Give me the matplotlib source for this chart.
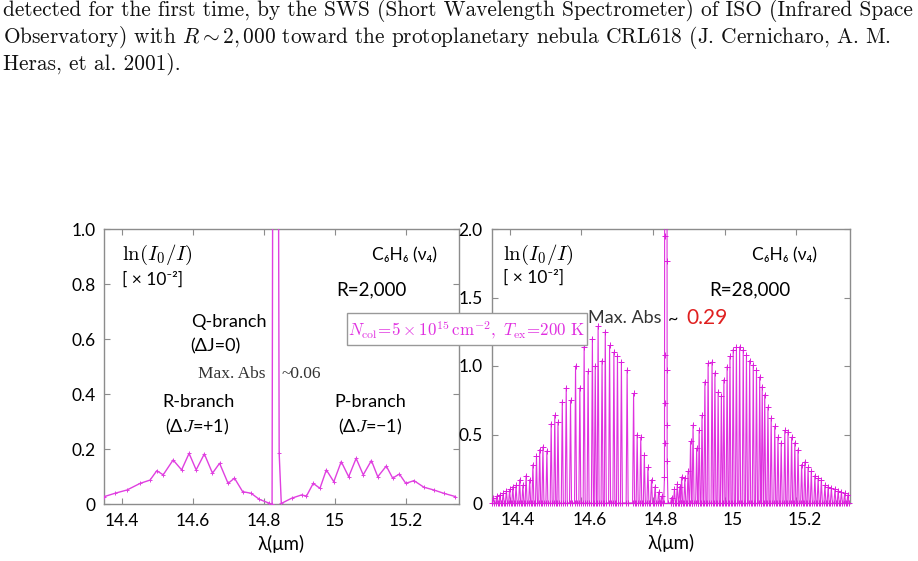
import numpy as np
import matplotlib
matplotlib.use('Agg')
import matplotlib.pyplot as plt
from matplotlib.patches import Rectangle
import matplotlib.transforms as mtransforms

plt.rcParams['mathtext.fontset'] = 'cm'
plt.rcParams['font.family'] = ['Lato', 'DejaVu Sans']

# ---------------- data ----------------
x_ticks = [14.4, 14.6, 14.8, 15.0, 15.2]
x_tick_labels = ['14.4', '14.6', '14.8', '15', '15.2']
left_y_ticks = [0, 0.2, 0.4, 0.6, 0.8, 1.0]
left_y_labels = ['0', '0.2', '0.4', '0.6', '0.8', '1.0']
right_y_ticks = [0, 0.5, 1.0, 1.5, 2.0]
right_y_labels = ['0', '0.5', '1.0', '1.5', '2.0']

# R = 2,000 spectrum (ln(I0/I) x 1e-2)
lowres_wl = [14.350, 14.380, 14.414, 14.451, 14.479, 14.498, 14.516, 14.544, 14.568,
             14.589, 14.609, 14.632, 14.655, 14.675, 14.699, 14.717, 14.740, 14.764,
             14.787, 14.815, 14.823, 14.832, 14.843, 14.849, 14.878, 14.906, 14.920,
             14.939, 14.958, 14.976, 14.997, 15.018, 15.039, 15.060, 15.080, 15.103,
             15.121, 15.145, 15.163, 15.182, 15.200, 15.223, 15.251, 15.279, 15.307,
             15.340]
lowres_abs = [0.028, 0.040, 0.052, 0.076, 0.088, 0.122, 0.107, 0.161, 0.125,
              0.185, 0.125, 0.183, 0.113, 0.149, 0.076, 0.095, 0.046, 0.040,
              0.018, 0.004, 0.000, 6.0, 0.185, 0.003, 0.022, 0.034, 0.030,
              0.076, 0.058, 0.125, 0.082, 0.155, 0.100, 0.167, 0.107, 0.159,
              0.100, 0.139, 0.095, 0.110, 0.076, 0.086, 0.062, 0.052, 0.040,
              0.028]

# R = 28,000 spectrum: R-branch lines
rbranch_wl = [14.355, 14.364, 14.373, 14.382, 14.391, 14.400, 14.409, 14.418, 14.428,
              14.437, 14.446, 14.456, 14.465, 14.475, 14.484, 14.493, 14.504, 14.516,
              14.526, 14.535, 14.547, 14.558, 14.570, 14.584, 14.596, 14.608, 14.619,
              14.631, 14.639, 14.647, 14.658, 14.667, 14.679, 14.691, 14.701, 14.712,
              14.728, 14.746, 14.756, 14.766, 14.776, 14.786, 14.796, 14.806, 14.816,
              14.824]
rbranch_abs = [0.04, 0.05, 0.06, 0.07, 0.09, 0.10, 0.12, 0.13, 0.17,
               0.13, 0.20, 0.17, 0.28, 0.34, 0.39, 0.41, 0.38, 0.58,
               0.64, 0.59, 0.74, 0.84, 0.75, 1.00, 0.84, 1.14, 0.96,
               1.20, 1.00, 1.29, 1.04, 1.25, 1.15, 1.10, 1.07, 1.03,
               0.97, 0.80, 0.50, 0.48, 0.35, 0.26, 0.17, 0.12, 0.08,
               0.05]
# P-branch lines
pbranch_wl = [14.852, 14.860, 14.868, 14.875, 14.880, 14.889, 14.898, 14.905, 14.912,
              14.922, 14.929, 14.937, 14.945, 14.954, 14.965, 14.973, 14.982, 14.991,
              14.998, 15.007, 15.015, 15.024, 15.033, 15.042, 15.052, 15.061, 15.070,
              15.080, 15.089, 15.098, 15.105, 15.112, 15.121, 15.130, 15.140, 15.149,
              15.158, 15.168, 15.177, 15.187, 15.196, 15.205, 15.215, 15.224, 15.233,
              15.242, 15.252, 15.261, 15.270, 15.280, 15.289, 15.298, 15.308, 15.317,
              15.326, 15.335, 15.344]
pbranch_abs = [0.04, 0.10, 0.14, 0.12, 0.19, 0.18, 0.23, 0.45, 0.57,
               0.40, 0.53, 0.64, 0.885, 1.02, 1.03, 0.95, 0.81, 0.78,
               0.90, 0.995, 1.07, 1.12, 1.14, 1.14, 1.12, 1.08, 1.04,
               1.01, 0.97, 0.92, 0.85, 0.79, 0.70, 0.62, 0.56, 0.48,
               0.44, 0.53, 0.52, 0.48, 0.44, 0.39, 0.28, 0.30, 0.26,
               0.23, 0.20, 0.18, 0.17, 0.13, 0.12, 0.11, 0.10, 0.09,
               0.08, 0.07, 0.06]
# Q-branch samples (peak ~29)
qbranch_wl = [14.8300, 14.8322, 14.8323, 14.8324, 14.8325, 14.8326, 14.8360,
              14.8394, 14.8395, 14.8396, 14.8397, 14.8420]
qbranch_abs = [0.0, 0.19, 0.44, 0.73, 1.08, 1.95, 29.0,
               1.77, 0.97, 0.57, 0.31, 0.0]

# ---------------- figure ----------------
W, H = 918, 561
fig = plt.figure(figsize=(W / 100, H / 100), dpi=100)
fig.patch.set_facecolor('white')


def fx(px):
    return px / W


def fy(py):
    return 1 - py / H


MAG = '#e040e0'
MAG2 = '#dc1cdc'
SPINE = '#8c8c8c'
TICKFS = 12.5

axL = fig.add_axes([fx(104.3), fy(504.3), (459 - 104.3) / W, (504.3 - 229) / H])
axR = fig.add_axes([fx(491.7), fy(503), (850 - 491.7) / W, (503 - 229) / H])

for ax in (axL, axR):
    ax.set_xlim(14.35, 15.35)
    ax.set_xticks(x_ticks)
    ax.set_xticklabels(x_tick_labels)
    for s in ax.spines.values():
        s.set_color(SPINE)
        s.set_linewidth(1.0)
    ax.tick_params(direction='in', top=True, right=True, length=4, width=0.8,
                   color=SPINE, labelsize=TICKFS, pad=6.5)
    ax.set_xlabel('λ(μm)', fontsize=13.5, labelpad=4)

axL.set_ylim(0, 1.0)
axL.set_yticks(left_y_ticks)
axL.set_yticklabels(left_y_labels)
axR.set_ylim(0, 2.0)
axR.set_yticks(right_y_ticks)
axR.set_yticklabels(right_y_labels)

# right-panel x tick labels sit slightly right of their ticks in the reference
shift = mtransforms.ScaledTranslation(8 / 100, 0, fig.dpi_scale_trans)
for lab in axR.get_xticklabels():
    lab.set_transform(lab.get_transform() + shift)

# left spectrum
axL.plot(lowres_wl, lowres_abs, color=MAG, lw=1.0, marker='+', ms=3.5, mew=0.7,
         clip_on=True, zorder=3)

# right spectrum: narrow line profiles built from centres and peak heights
w = 0.0028
centres = np.array(rbranch_wl + pbranch_wl)
heights = np.array(rbranch_abs + pbranch_abs)
xs = np.column_stack([centres - w, centres, centres + w]).ravel()
ys = np.column_stack([np.zeros_like(heights), heights, np.zeros_like(heights)]).ravel()
qx = np.array(qbranch_wl)
qy = np.array(qbranch_abs)
allx = np.concatenate([[14.35], xs, qx])
ally = np.concatenate([[0.0], ys, qy])
order = np.argsort(allx, kind='stable')
allx = np.append(allx[order], 15.35)
ally = np.append(ally[order], 0.0)
axR.plot(allx, ally, color=MAG2, lw=0.8, alpha=0.9, zorder=3)
axR.plot(centres, heights, ls='none', color=MAG2, marker='+', ms=4, mew=0.7, zorder=4)
axR.plot(qx, qy, ls='none', color=MAG2, marker='+', ms=4, mew=0.7, zorder=4)
axR.plot(np.concatenate([centres - w, centres + w]), np.zeros(2 * len(centres)),
         ls='none', color=MAG2, marker='+', ms=4, mew=0.7, zorder=4, clip_on=False)

# ---------------- annotations ----------------
SANS = ['Lato', 'DejaVu Sans']
lnfs = 15
# left panel
fig.text(fx(121.7), fy(255), r'$\ln(I_0/I)$', fontsize=lnfs, va='center', ha='left')
fig.text(fx(122), fy(280), '[ × 10⁻²]', fontsize=12.5, va='center', ha='left', family=SANS)
fig.text(fx(436.7), fy(255), 'C₆H₆ (ν₄)', fontsize=12.5, va='center', ha='right', family=SANS)
fig.text(fx(406.7), fy(290), 'R=2,000', fontsize=13.5, va='center', ha='right', family=SANS)
fig.text(fx(190.7), fy(321.7), 'Q-branch', fontsize=13, va='center', ha='left', family=SANS)
fig.text(fx(190.7), fy(346.7), '(ΔJ=0)', fontsize=13, va='center', ha='left', family=SANS)
fig.text(fx(265), fy(374.3), 'Max. Abs', fontsize=12.5, va='center', ha='right',
         family=['Liberation Serif'], color='#333333')
fig.text(fx(281.7), fy(374.3), '~0.06', fontsize=12.5, va='center', ha='left',
         family=['Liberation Serif'], color='#333333')
fig.text(fx(198.3), fy(401.7), 'R-branch', fontsize=13, va='center', ha='center', family=SANS)
fig.text(fx(197), fy(426.7), r'(Δ$J$=+1)', fontsize=13, va='center', ha='center', family=SANS)
fig.text(fx(370.7), fy(401.7), 'P-branch', fontsize=13, va='center', ha='center', family=SANS)
fig.text(fx(370), fy(426.7), r'(Δ$J$=−1)', fontsize=13, va='center', ha='center', family=SANS)

# right panel
fig.text(fx(503.3), fy(255), r'$\ln(I_0/I)$', fontsize=lnfs, va='center', ha='left')
fig.text(fx(503.3), fy(278), '[ × 10⁻²]', fontsize=12.5, va='center', ha='left', family=SANS)
fig.text(fx(816.7), fy(255), 'C₆H₆ (ν₄)', fontsize=12.5, va='center', ha='right', family=SANS)
fig.text(fx(790.7), fy(290), 'R=28,000', fontsize=13.5, va='center', ha='right', family=SANS)
fig.text(fx(588.3), fy(318.3), 'Max. Abs', fontsize=13, va='center', ha='left', family=SANS,
         color='#333333')
fig.text(fx(673), fy(319), '~', fontsize=13, va='center', ha='center', family=SANS)
fig.text(fx(686.7), fy(318.3), '0.29', fontsize=15, va='center', ha='left', family=SANS,
         color='#e02020')

# parameter box
fig.add_artist(Rectangle((fx(346.7), fy(345)), (586.7 - 346.7) / W, (345 - 313.3) / H,
                         transform=fig.transFigure, facecolor='white', edgecolor='#999999',
                         lw=1.0, zorder=10))
fig.text(fx(466.7), fy(329.5),
         r'$N_{\rm col}\!=\!5\times10^{15}\,{\rm cm}^{-2},\ T_{\rm ex}\!=\!200\ {\rm K}$',
         fontsize=12.2, va='center', ha='center', color='#e030e0', zorder=11)

# ---------------- document text above ----------------
lines = [
    'detected for the first time, by the SWS (Short Wavelength Spectrometer) of ISO (Infrared Space',
    r'Observatory) with $R\sim2,000$ toward the protoplanetary nebula CRL618 (J. Cernicharo, A. M.',
    'Heras, et al. 2001).',
]
baselines = [16, 43.3, 69.5]
txts = []
for s, b in zip(lines, baselines):
    txts.append(fig.text(fx(3), fy(b), s, fontsize=13, family='cmr10', va='baseline',
                         ha='left', color='#111111'))
fig.canvas.draw()
r = fig.canvas.get_renderer()
wid = txts[0].get_window_extent(r).width
scale = (912 - 3) / wid
for t in txts:
    t.set_fontsize(13 * scale)

fig.savefig('out.png', dpi=100, facecolor='white')
